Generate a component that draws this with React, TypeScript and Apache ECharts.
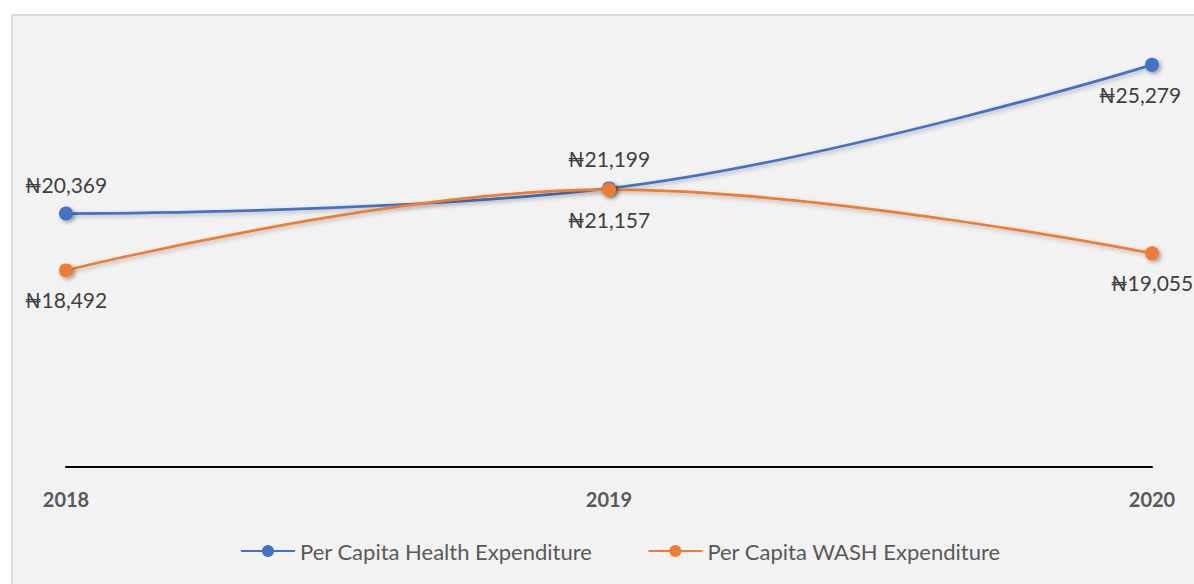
import React, { useEffect, useRef } from "react";
import * as echarts from "echarts";

const years = ["2018", "2019", "2020"];
const healthValues = [20369, 21199, 25279];
const washValues = [18492, 21157, 19055];
const healthLabelPos = ["top", "top", "bottom"];
const washLabelPos = ["bottom", "bottom", "bottom"];

const FONT = "Lato, 'Open Sans', sans-serif";
const fmt = (v: number) => "₦" + v.toLocaleString("en-US");

export default function App() {
  const ref = useRef<HTMLDivElement>(null);
  useEffect(() => {
    if (!ref.current) return;
    const chart = echarts.init(ref.current, undefined, { renderer: "svg" });
    const mkData = (vals: number[], pos: string[], offs?: number[][]) =>
      vals.map((v, i) => ({
        value: v,
        label: { position: pos[i], offset: offs ? offs[i] : [0, 0] },
      }));
    const common = {
      type: "line",
      smooth: 0.4,
      symbol: "circle",
      symbolSize: 14,
      lineStyle: { width: 2.75, shadowBlur: 4, shadowColor: "rgba(0,0,0,0.25)", shadowOffsetX: 2, shadowOffsetY: 2 },
      label: {
        show: true,
        distance: 12,
        fontSize: 21,
        color: "#404040",
        fontFamily: FONT,
        formatter: (p: any) => fmt(p.value),
      },
    };
    chart.setOption({
      animation: false,
      backgroundColor: "#ffffff",
      graphic: [
        {
          type: "rect",
          z: -10,
          silent: true,
          shape: { x: 12, y: 15, width: 1200, height: 600 },
          style: { fill: "#f2f2f2", stroke: "#d9d9d9", lineWidth: 2 },
        },
      ],
      grid: { left: 66, right: 42, top: 43, bottom: 117 },
      xAxis: {
        type: "category",
        data: years,
        boundaryGap: false,
        axisLine: { lineStyle: { color: "#000000", width: 2 } },
        axisTick: { show: false },
        axisLabel: {
          margin: 22,
          fontSize: 20,
          fontWeight: "bold",
          color: "#595959",
          fontFamily: FONT,
        },
        splitLine: { show: false },
      },
      yAxis: {
        type: "value",
        min: 12000,
        max: 26000,
        show: false,
        splitLine: { show: false },
      },
      legend: {
        bottom: 17,
        left: 235,
        itemWidth: 54,
        itemHeight: 15,
        itemGap: 55,
        textStyle: { fontSize: 22, color: "#595959", fontFamily: FONT },
        data: ["Per Capita Health Expenditure", "Per Capita WASH Expenditure"],
      },
      series: [
        {
          ...common,
          name: "Per Capita Health Expenditure",
          color: "#4472C4",
          itemStyle: { color: "#4472C4", shadowBlur: 4, shadowColor: "rgba(0,0,0,0.35)", shadowOffsetX: 2, shadowOffsetY: 2 },
          data: mkData(healthValues, healthLabelPos, [[0, 0], [0, 0], [-12, 0]]),
        },
        {
          ...common,
          name: "Per Capita WASH Expenditure",
          color: "#ED7D31",
          itemStyle: { color: "#ED7D31", shadowBlur: 4, shadowColor: "rgba(0,0,0,0.35)", shadowOffsetX: 2, shadowOffsetY: 2 },
          data: mkData(washValues, washLabelPos),
        },
      ],
    });
    return () => chart.dispose();
  }, []);
  return (
    <div
      ref={ref}
      style={{ position: "fixed", left: 0, top: 0, width: 1194, height: 584 }}
    />
  );
}
